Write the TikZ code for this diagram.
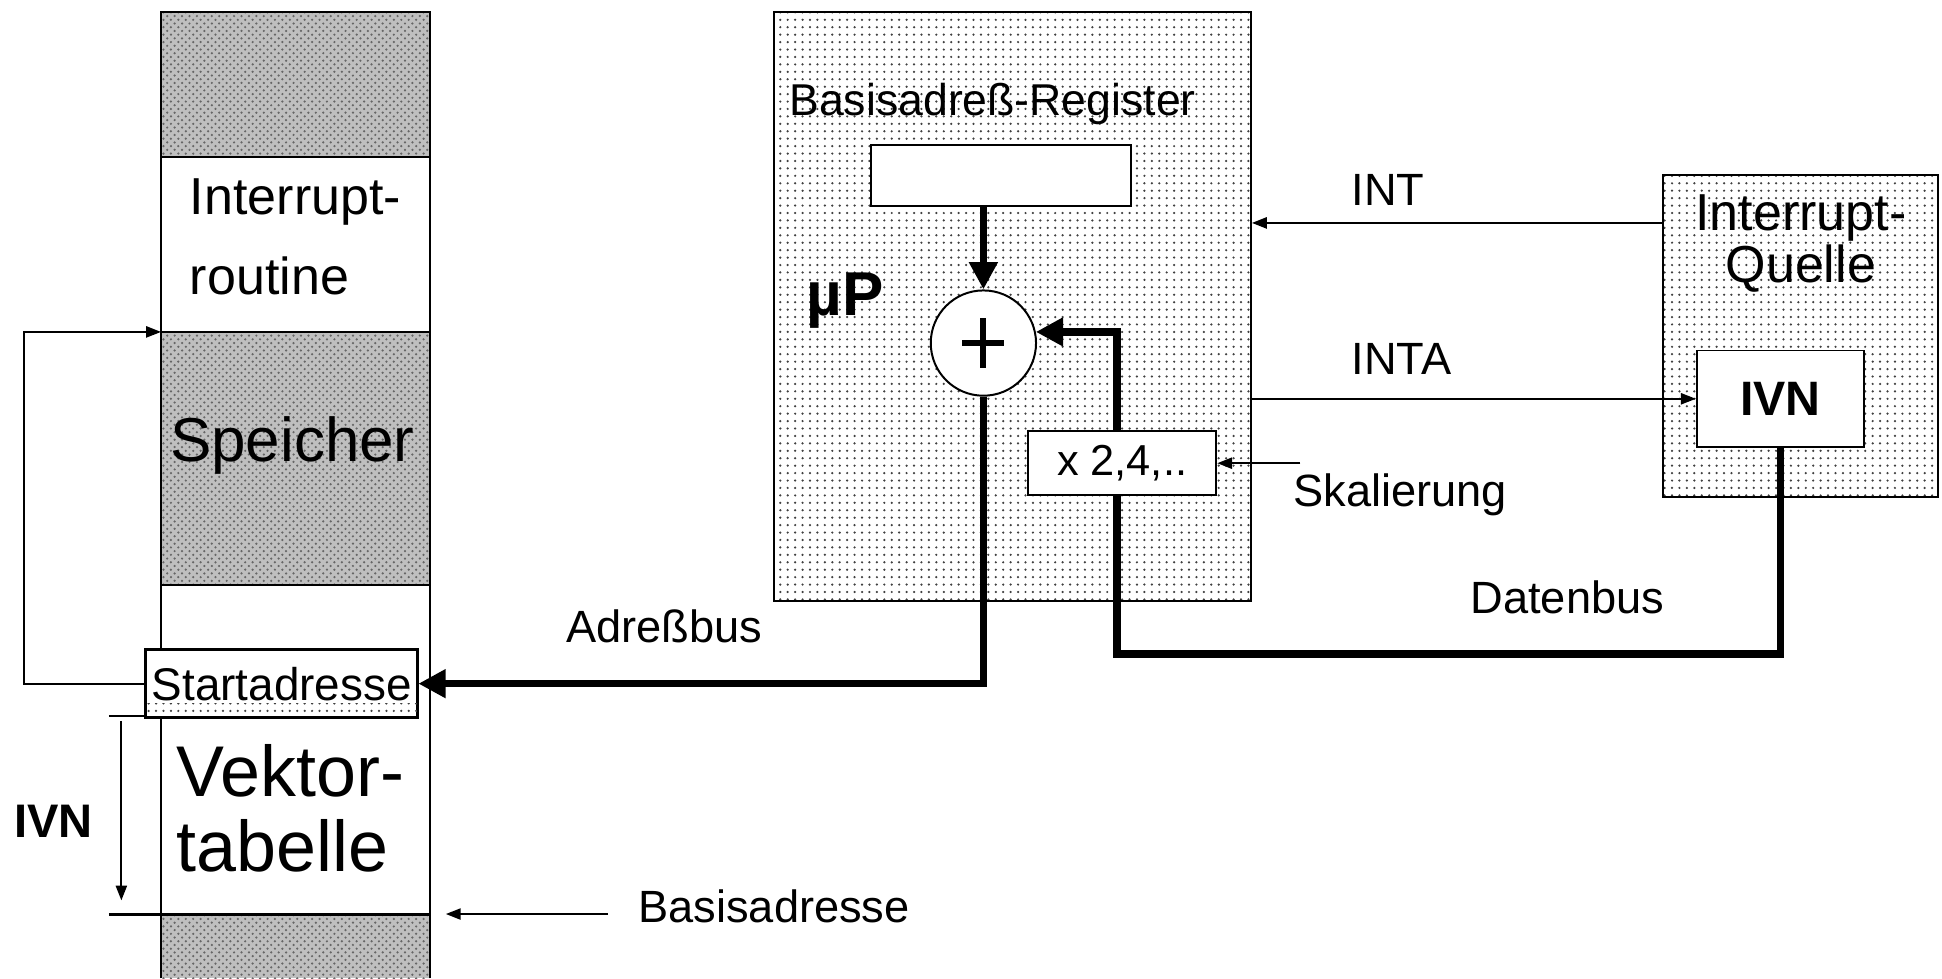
\documentclass[tikz,border=0pt]{standalone}
\usepackage{fontspec}
\setmainfont{Liberation Sans}
\usetikzlibrary{arrows.meta,patterns}

\begin{document}
\begin{tikzpicture}[x=0.5pt,y=0.5pt,yscale=-1,
  thinline/.style={line width=0.8pt},
  sig/.style={line width=0.8pt,-{Triangle[length=6pt,width=4.5pt]}},
  bus/.style={line width=3pt,-{Triangle[length=11pt,width=11pt]}},
  memgray/.style={fill=gray!50,postaction={pattern=crosshatch dots,pattern color=black!60}},
  dotfill/.style={pattern=dots,pattern color=black!75},
  whitebox/.style={draw,line width=0.8pt,fill=white,inner sep=0pt},
  lbl/.style={inner sep=0pt,anchor=base west,font=\fontsize{18.25pt}{20pt}\selectfont}]
\useasboundingbox (0,0) rectangle (1568,790);

%Shape: Memory column
\fill[memgray] (130,10) rectangle (347,127);
\fill[memgray] (130,268) rectangle (347,472);
\fill[memgray] (130,738) rectangle (347,790);
\draw[thinline] (130,790) -- (130,10) -- (347,10) -- (347,790);
\draw[thinline] (130,127) -- (347,127);
\draw[thinline] (130,268) -- (347,268);
\draw[thinline] (130,472) -- (347,472);
\draw[thinline] (88,578) -- (130,578);
\draw[line width=1.2pt] (88,738) -- (347,738);
\coordinate (sptop) at (130,268);

% Text Node
\node[lbl,font=\fontsize{21pt}{24pt}\selectfont] (irt1) at (153,173) {Interrupt-};
\node[lbl,font=\fontsize{21pt}{24pt}\selectfont] (irt2) at (153,238) {routine};
\node[lbl,font=\fontsize{25pt}{28pt}\selectfont] (speicher) at (137,373) {Speicher};
\node[lbl,font=\fontsize{29pt}{32pt}\selectfont] (vekt1) at (142,643) {Vektor-};
\node[lbl,font=\fontsize{29pt}{32pt}\selectfont] (vekt2) at (142,704) {tabelle};

%Shape: Startadresse
\node[whitebox,minimum width=109.5pt,minimum height=27pt,font=\fontsize{18.5pt}{20pt}\selectfont] (start) at (227.5,552) {Startadresse};
\fill[dotfill] (start.south west) rectangle ([yshift=-6pt]start.south east);
\draw[thinline] (start.south west) rectangle (start.north east);

%Straight Lines: IVN offset
\coordinate (ivtop) at (98,582);
\coordinate (ivbot) at (98,727);
\draw[sig] (ivtop) -- (ivbot);
\node[lbl,font=\bfseries\fontsize{19pt}{20pt}\selectfont] (ivnlab) at (11,676) {IVN};

%Straight Lines: Basisadresse
\coordinate (bastail) at (491,738);
\coordinate (basend) at (360,738);
\draw[sig] (bastail) -- (basend);
\node[lbl] (baslab) at (515,745) {Basisadresse};

%Straight Lines: jump to routine
\draw[sig] (start.west) -- ++(-98,0) |- (sptop);

%Shape: uP
\node[draw,thinline,dotfill,inner sep=0pt,minimum width=192.5pt,minimum height=237.5pt] (mup) at (817.5,247.5) {};
\node[lbl,font=\fontsize{18pt}{20pt}\selectfont] (reglab) at (637,93) {Basisadreß-Register};
\node[whitebox,minimum width=105pt,minimum height=24.5pt] (reg) at (808,141.5) {};
\node[whitebox,circle,minimum size=42.5pt] (adder) at (794,277) {};
\draw[line width=2.5pt] ([xshift=-8.5pt]adder.center) -- ([xshift=8.5pt]adder.center);
\draw[line width=2.5pt] ([yshift=-10pt]adder.center) -- ([yshift=10pt]adder.center);
\node[lbl,font=\bfseries\fontsize{25pt}{28pt}\selectfont] (mulab) at (651,255) {µP};
\draw[bus] (reg.south -| adder.north) -- (adder.north);

%Shape: Interrupt-Quelle
\node[draw,thinline,dotfill,inner sep=0pt,minimum width=111pt,minimum height=130pt] (quelle) at (1454,271) {};
\node[inner sep=0pt,align=center,font=\fontsize{21pt}{21pt}\selectfont] (qlab) at (1454,197) {Interrupt-\\Quelle};
\node[whitebox,minimum width=67.5pt,minimum height=39pt,font=\bfseries\fontsize{19.5pt}{20pt}\selectfont] (ivn) at (1437.5,322) {IVN};

%Straight Lines: data bus
\coordinate (dbus) at (902,528);
\draw[bus] (ivn.south) |- (dbus) |- (adder.12);
\node[lbl] (dlab) at (1187,495) {Datenbus};

%Shape: scaling
\node[whitebox,minimum width=76pt,minimum height=26pt,font=\fontsize{17.5pt}{20pt}\selectfont] (scale) at (906,374) {x 2,4,..};
\coordinate (skal) at (1050,374);
\draw[sig] (skal) -- (scale.east);
\node[lbl] (skallab) at (1044,409) {Skalierung};

%Straight Lines: address bus
\draw[bus] (adder.south) |- (start.east);
\node[lbl] (alab) at (457,519) {Adreßbus};

%Straight Lines: INT, INTA
\coordinate (intlvl) at (1180,180);
\draw[sig] (quelle.west |- intlvl) -- (mup.east |- intlvl);
\node[lbl] (intlab) at (1091,166) {INT};
\draw[sig] (mup.east |- ivn.west) -- (ivn.west);
\node[lbl] (intalab) at (1091,302) {INTA};

\end{tikzpicture}
\end{document}
